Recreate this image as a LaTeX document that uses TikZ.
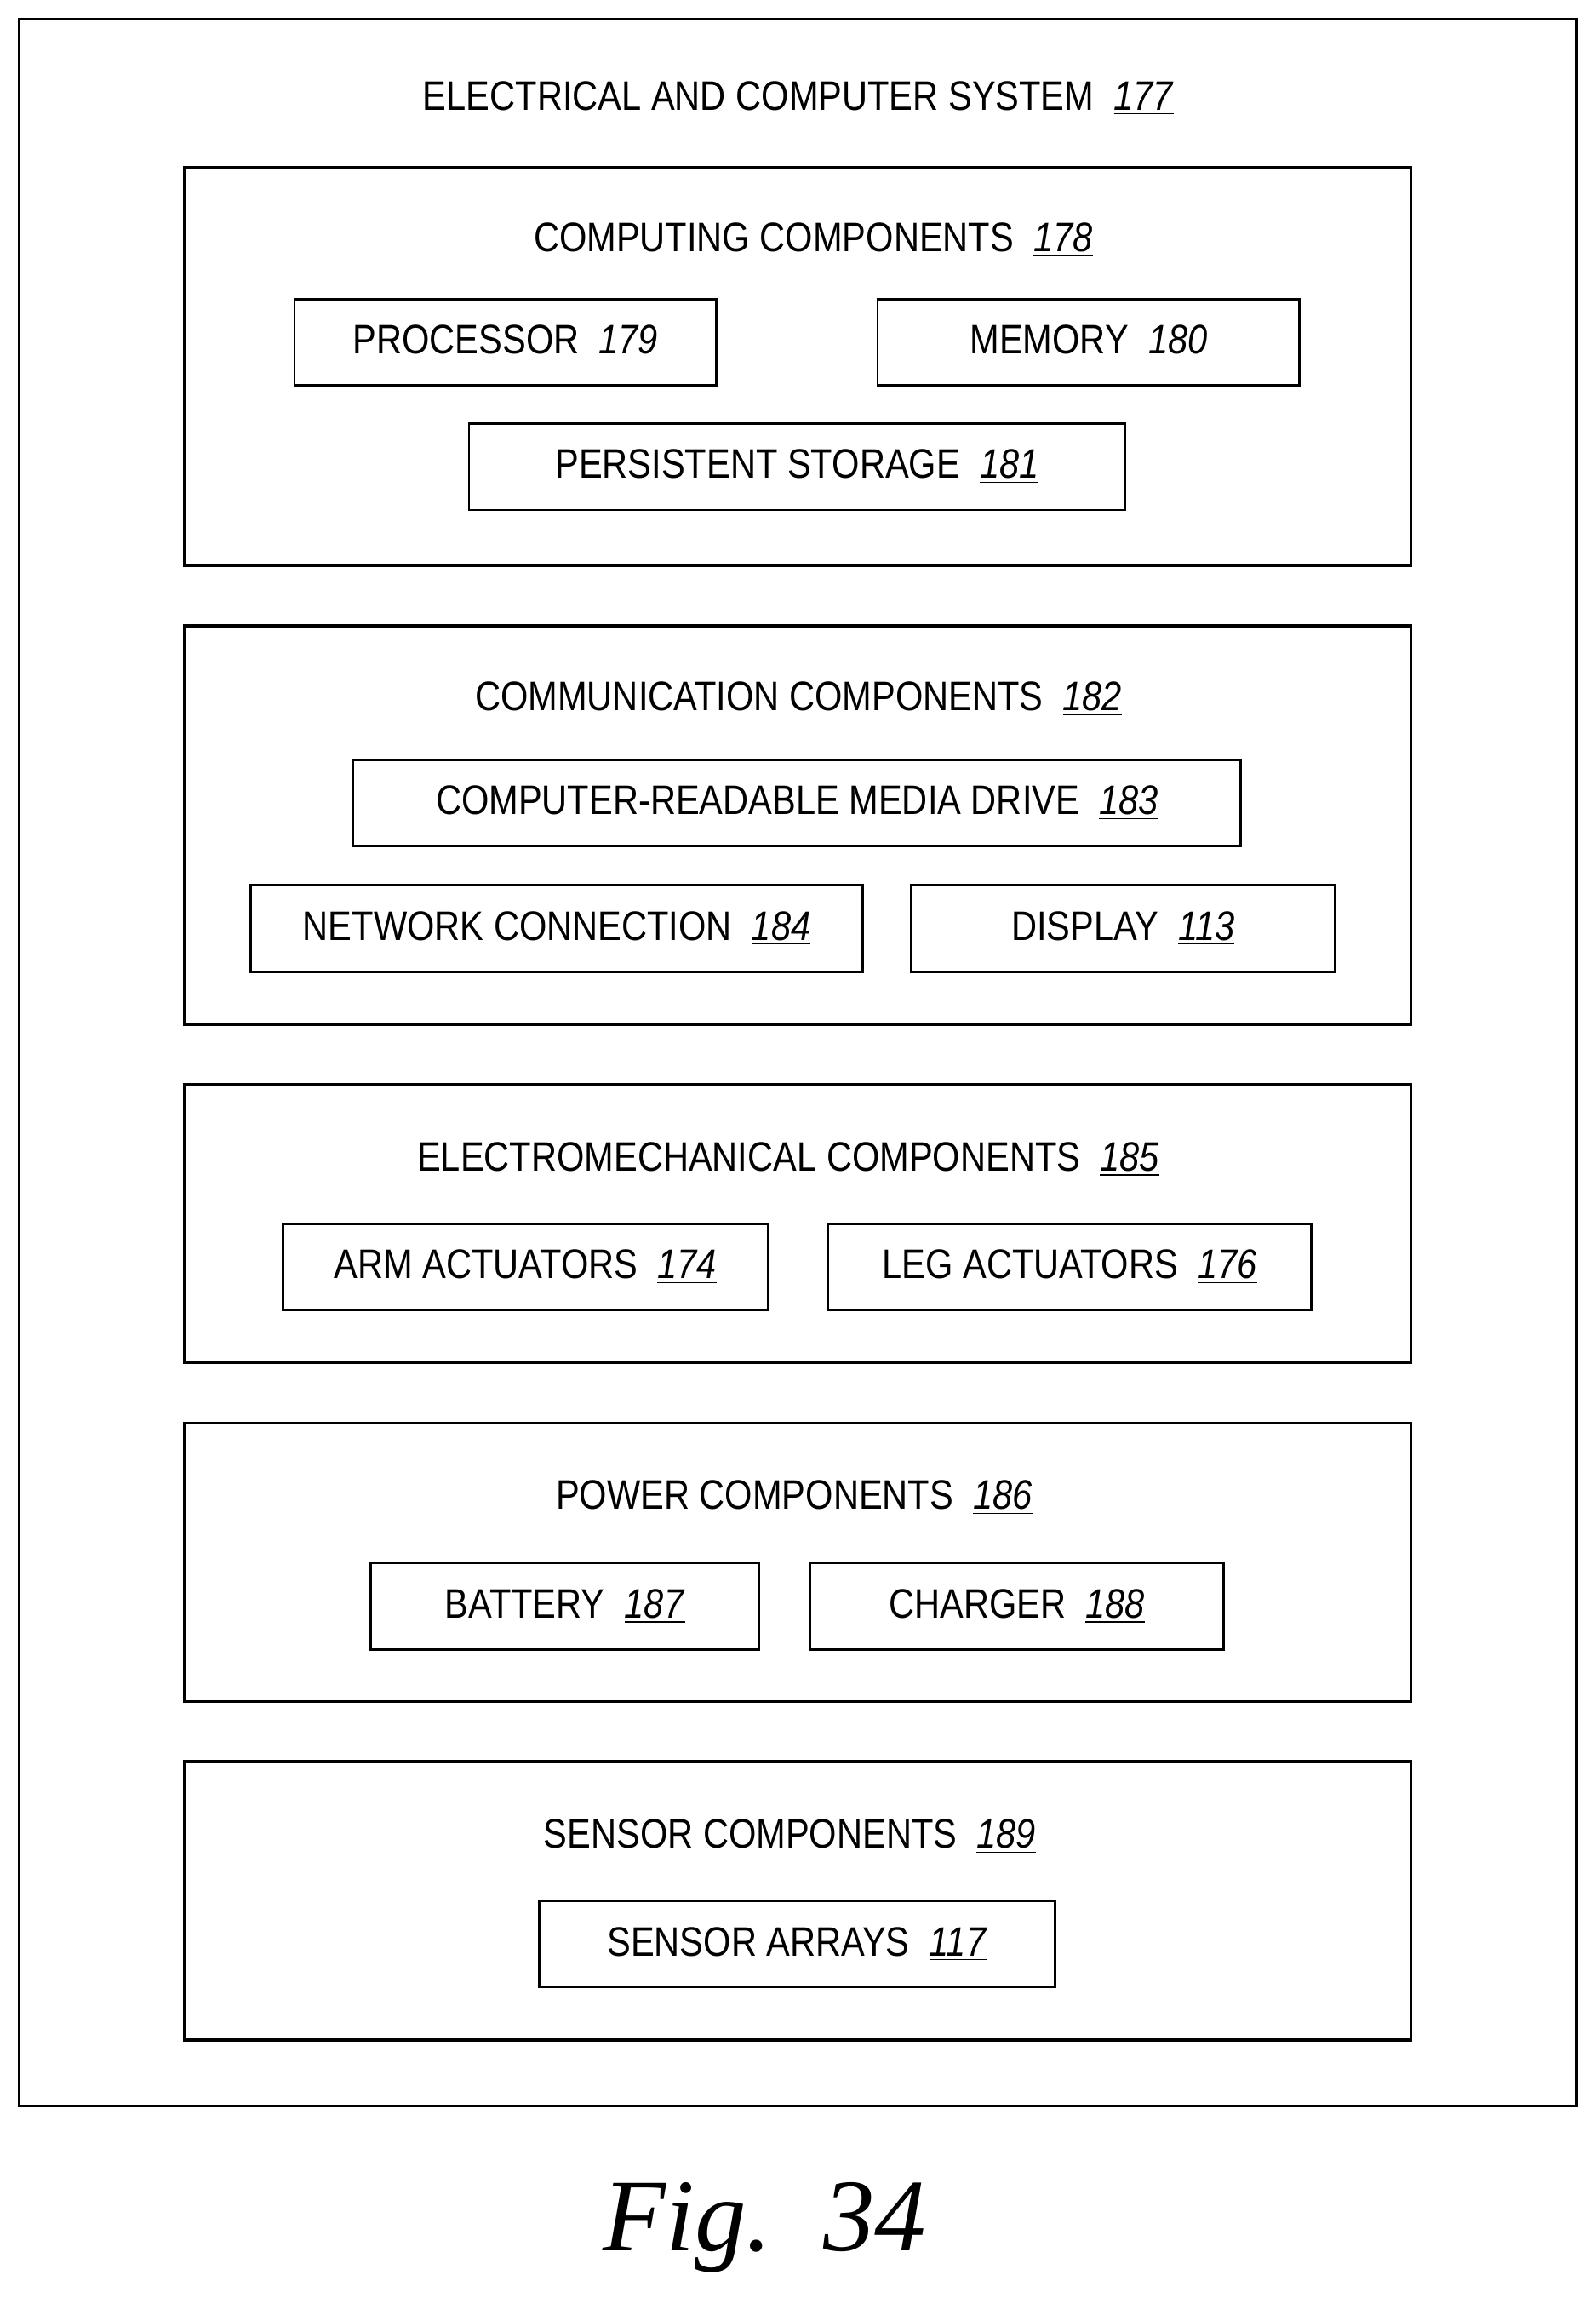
\documentclass[tikz,border=0pt]{standalone}
\usepackage{fontspec}
\setmainfont{Liberation Sans}[FakeStretch=0.86]
\newfontfamily\figfont{Liberation Serif}
\usetikzlibrary{positioning}
\newcommand{\refnum}[1]{\ \ \underline{\textit{#1}}}
\tikzset{
    group/.style={
        rectangle, draw, line width=1.1pt,
    },
    part/.style={
        rectangle, draw, line width=0.9pt,
        minimum height=1.18cm, inner sep=0pt,
        font=\fontsize{16}{19}\selectfont,
    },
    heading/.style={
        font=\fontsize{16}{19}\selectfont, inner sep=0pt,
    },
}
\begin{document}
\begin{tikzpicture}[x=0.02cm,y=-0.02cm]
\useasboundingbox (0,0) rectangle (1089,1568);
% outer frame
\draw[group] (13,13) rectangle (1076,1437);
\node[heading] (system) at (545,67) {ELECTRICAL AND COMPUTER SYSTEM\refnum{177}};

% computing components
\draw[group] (126,114) rectangle (963,386);
\node[heading] (computing) at (555,164) {COMPUTING COMPONENTS\refnum{178}};
\node[part, minimum width=5.76cm] (processor) at (345,233.5) {PROCESSOR\refnum{179}};
\node[part, minimum width=5.76cm] (memory) at (743,233.5) {MEMORY\refnum{180}};
\node[part, minimum width=8.96cm] (storage) at (544,318.5) {PERSISTENT STORAGE\refnum{181}};

% communication components
\draw[group] (126,427) rectangle (963,699);
\node[heading] (communication) at (545,477) {COMMUNICATION COMPONENTS\refnum{182}};
\node[part, minimum width=12.12cm] (media) at (544,548) {COMPUTER-READABLE MEDIA DRIVE\refnum{183}};
\node[part, minimum width=8.36cm] (network) at (380,633.5) {NETWORK CONNECTION\refnum{184}};
\node[part, minimum width=5.78cm] (display) at (766.5,633.5) {DISPLAY\refnum{113}};

% electromechanical components
\draw[group] (126,740) rectangle (963,930);
\node[heading] (electromech) at (538,791) {ELECTROMECHANICAL COMPONENTS\refnum{185}};
\node[part, minimum width=6.62cm] (arm) at (358.5,864.5) {ARM ACTUATORS\refnum{174}};
\node[part, minimum width=6.6cm] (leg) at (730,864.5) {LEG ACTUATORS\refnum{176}};

% power components
\draw[group] (126,971) rectangle (963,1161);
\node[heading] (power) at (542,1022) {POWER COMPONENTS\refnum{186}};
\node[part, minimum width=5.3cm] (battery) at (385.5,1096) {BATTERY\refnum{187}};
\node[part, minimum width=5.64cm] (charger) at (694,1096) {CHARGER\refnum{188}};

% sensor components
\draw[group] (126,1202) rectangle (963,1392);
\node[heading] (sensor) at (539,1253) {SENSOR COMPONENTS\refnum{189}};
\node[part, minimum width=7.04cm] (arrays) at (544,1326.5) {SENSOR ARRAYS\refnum{117}};

\node[font=\figfont\itshape\fontsize{40}{48}\selectfont] (fig) at (522,1520) {Fig.\ \ 34};
\end{tikzpicture}
\end{document}
